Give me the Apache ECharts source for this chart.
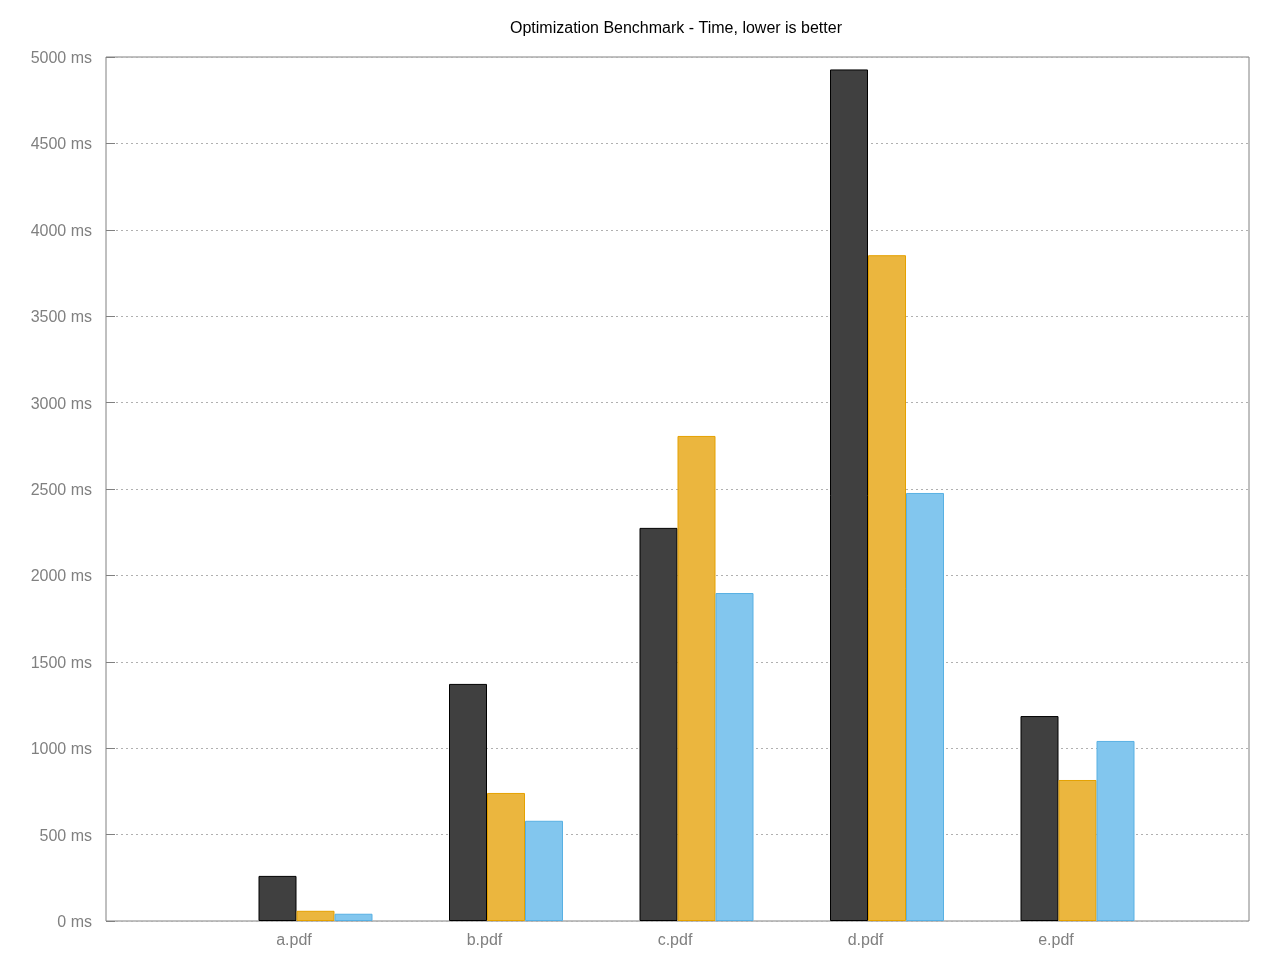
<!DOCTYPE html>
<html>
<head>
<meta charset="utf-8">
<script src="https://cdn.jsdelivr.net/npm/echarts@6/dist/echarts.min.js"></script>
<style>html,body{margin:0;padding:0;background:#fff;}#c{width:1280px;height:960px;}</style>
</head>
<body>
<div id="c"></div>
<script>
const categories = ['', 'a.pdf', 'b.pdf', 'c.pdf', 'd.pdf', 'e.pdf', ''];
const seriesA = ['-', 261, 1372, 2275, 4928, 1186, '-'];
const seriesB = ['-', 59, 741, 2807, 3853, 816, '-'];
const seriesC = ['-', 42, 580, 1898, 2477, 1042, '-'];
const yTicks = { min: 0, max: 5000, interval: 500 };

const chart = echarts.init(document.getElementById('c'), null, { renderer: 'canvas' });
const font = 'Liberation Sans, Arial, sans-serif';
chart.setOption({
  animation: false,
  backgroundColor: '#ffffff',
  title: {
    text: 'Optimization Benchmark - Time, lower is better',
    left: 671, top: 16, textAlign: 'center',
    textStyle: { fontFamily: font, fontSize: 16, fontWeight: 'normal', color: '#000' }
  },
  grid: { left: 106, right: 31, top: 57, bottom: 39, show: true, borderColor: '#808080', borderWidth: 1, backgroundColor: 'transparent' },
  xAxis: {
    type: 'category', data: categories, boundaryGap: false,
    axisLine: { show: false }, axisTick: { show: false },
    splitLine: { show: false },
    axisLabel: { color: '#808080', fontFamily: font, fontSize: 16, margin: 12, interval: 0, padding: [0, 5, 0, 0] }
  },
  yAxis: {
    type: 'value', min: yTicks.min, max: yTicks.max, interval: yTicks.interval,
    axisLine: { show: false },
    axisTick: { show: true, inside: true, length: 9, lineStyle: { color: '#808080' } },
    splitLine: { show: true, lineStyle: { color: '#b0b0b0', type: [2, 3], width: 1 } },
    axisLabel: {
      color: '#808080', fontFamily: font, fontSize: 16, margin: 14,
      formatter: v => '{a|' + v + ' ms}',
      rich: { a: { color: '#808080', fontFamily: font, fontSize: 16, padding: [3, 0, 0, 0] } }
    }
  },
  series: [
    { type: 'bar', name: 'pad', data: categories.map(() => '-'), barWidth: 38, barGap: '0%' },
    { type: 'bar', name: 'A', data: seriesA, barWidth: 38, barGap: '0%',
      itemStyle: { color: '#404040', borderColor: '#000000', borderWidth: 1 } },
    { type: 'bar', name: 'B', data: seriesB, barWidth: 38, barGap: '0%',
      itemStyle: { color: '#EBB63E', borderColor: '#E5A100', borderWidth: 1 } },
    { type: 'bar', name: 'C', data: seriesC, barWidth: 38, barGap: '0%',
      itemStyle: { color: '#82C6EE', borderColor: '#58B0E3', borderWidth: 1 } }
  ]
});
</script>
</body>
</html>
